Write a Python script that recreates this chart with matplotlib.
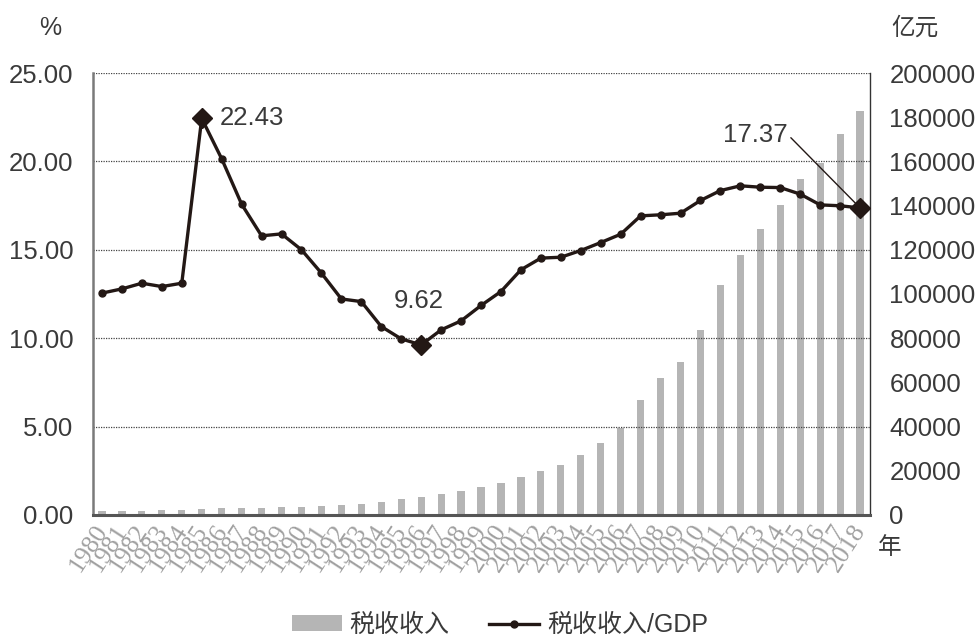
import matplotlib
matplotlib.use('Agg')
import matplotlib.pyplot as plt
import matplotlib.transforms as mtransforms

plt.rcParams['font.family'] = ['Liberation Sans', 'Noto Sans CJK SC', 'DejaVu Sans']

# --- data ---
years = list(range(1980, 2019))
tax_revenue = [1700, 1800, 1900, 2100, 2300, 2700, 3000, 3100, 3100, 3400,
               3800, 3900, 4400, 5100, 6000, 7200, 8200, 9500, 10900, 12500,
               14600, 17300, 19900, 22600, 27150, 32400, 39200, 52000, 62000, 69200,
               83700, 104200, 117500, 129300, 140100, 151900, 159400, 172400, 182900]
tax_gdp_ratio = [12.55, 12.79, 13.11, 12.92, 13.11, 22.43, 20.15, 17.58, 15.79, 15.90,
                 15.00, 13.68, 12.22, 12.07, 10.66, 9.96, 9.62, 10.47, 10.98, 11.85,
                 12.64, 13.87, 14.53, 14.58, 14.96, 15.41, 15.88, 16.92, 16.98, 17.07,
                 17.79, 18.35, 18.62, 18.54, 18.52, 18.15, 17.54, 17.49, 17.37]
highlight_years = [1985, 1996, 2018]
left_ticks = [0, 5, 10, 15, 20, 25]
right_ticks = list(range(0, 200001, 20000))

line_color = '#231815'
bar_color = '#b5b5b5'
text_color = '#3a3a3a'

fig = plt.figure(figsize=(9.8, 6.41), dpi=100)
ax = fig.add_axes([0.0949, 0.1966, 0.7929, 0.6895])
ax2 = ax.twinx()

# bars on the right axis
bars = ax2.bar(years, tax_revenue, width=0.36, color=bar_color, zorder=2, label='税收收入')
ax2.set_ylim(0, 200000)
ax2.set_yticks(right_ticks)
ax2.set_yticklabels([str(v) for v in right_ticks])

# line on the left axis, drawn above the bars
ax.set_zorder(ax2.get_zorder() + 1)
ax.patch.set_visible(False)
line, = ax.plot(years, tax_gdp_ratio, color=line_color, lw=2.4, marker='o', ms=5,
                zorder=4, label='税收收入/GDP')
hy = [tax_gdp_ratio[years.index(y)] for y in highlight_years]
ax.plot(highlight_years, hy, linestyle='none', marker='D', ms=10, color=line_color, zorder=5)

ax.set_ylim(0, 25)
ax.set_xlim(1979.55, 2018.5)
ax.set_yticks(left_ticks)
ax.set_yticklabels(['%.2f' % v for v in left_ticks])
ax.grid(axis='y', linestyle=(0, (1, 1)), color='#444444', lw=0.9)
ax.set_axisbelow(True)

for a in (ax, ax2):
    a.tick_params(length=0, labelsize=18.5, labelcolor=text_color)
    a.spines['top'].set_visible(False)
ax.tick_params(axis='y', pad=14)
ax2.tick_params(axis='y', pad=14)
ax.spines['left'].set_color('#7a7a7a')
ax.spines['left'].set_linewidth(1.8)
ax.spines['bottom'].set_color('#555555')
ax.spines['bottom'].set_linewidth(2.2)
ax.spines['right'].set_visible(False)
ax2.spines['left'].set_visible(False)
ax2.spines['bottom'].set_visible(False)
ax2.spines['right'].set_color('#333333')
ax2.spines['right'].set_linewidth(1.0)

# rotated year labels
ax.set_xticks([])
trans = mtransforms.blended_transform_factory(ax.transData, ax.transAxes)
for yr in years:
    ax.text(yr + 0.5, -0.012, str(yr), transform=trans, rotation=57,
            ha='right', va='top', fontsize=18.5, color='#a0a0a0',
            family='Liberation Serif')

# value labels
ax.annotate('22.43', xy=(1985, 22.43), xytext=(18, 0), textcoords='offset pixels',
            ha='left', va='center', fontsize=18.5, color=text_color)
ax.annotate('9.62', xy=(1996, 9.62), xytext=(-2, 32), textcoords='offset pixels',
            ha='center', va='bottom', fontsize=18.5, color=text_color)
ax.annotate('17.37', xy=(2018, 17.37), xytext=(-72, 73), textcoords='offset pixels',
            ha='right', va='center', fontsize=18.5, color=text_color,
            arrowprops=dict(arrowstyle='-', color=line_color, lw=1.0,
                            relpos=(1, 0.5), shrinkA=0, shrinkB=4))

# axis unit labels
fig.text(50 / 980, 1 - 28 / 641, '%', ha='center', va='center', fontsize=18, color=text_color)
fig.text(915 / 980, 1 - 28 / 641, '亿元', ha='center', va='center', fontsize=17,
         color=text_color, family=['Noto Sans CJK SC'])
fig.text(890 / 980, 1 - 548 / 641, '年', ha='center', va='center', fontsize=17,
         color=text_color, family=['Noto Sans CJK SC'])

fig.legend([bars, line], ['税收收入', '税收收入/GDP'], loc='center',
           bbox_to_anchor=(0.51, 0.025), ncol=2, frameon=False, fontsize=18,
           handlelength=2.0, handleheight=0.6, handletextpad=0.3, columnspacing=1.6,
           labelcolor=text_color)

plt.savefig('out.png', dpi=100)
